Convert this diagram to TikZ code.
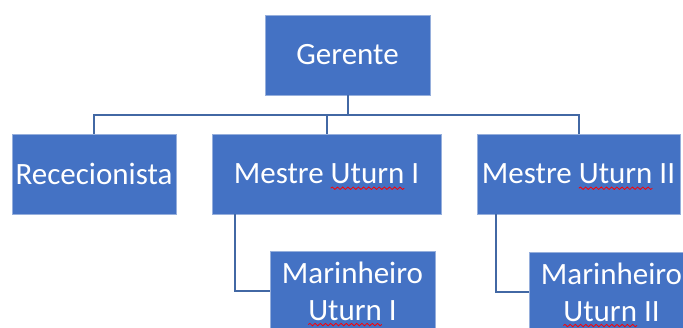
\documentclass[tikz,border=0pt]{standalone}
\usepackage{fontspec}
\setmainfont{Carlito}
\usetikzlibrary{decorations.pathmorphing}
\definecolor{boxblue}{RGB}{68,114,196}
\definecolor{boxedge}{RGB}{150,175,220}
\definecolor{linkblue}{RGB}{66,104,164}
\newsavebox\wordbox
\newcommand\spellwave[1]{\sbox\wordbox{#1}\rlap{#1}\tikz[baseline=0pt]{\path (0pt,0pt) (\wd\wordbox,0pt);\draw[overlay, red, line width=0.4pt, decorate, decoration={snake, amplitude=0.6pt, segment length=2.6pt}] (0pt,-2.2pt) -- (\wd\wordbox,-2.2pt);}}
\begin{document}
\begin{tikzpicture}[x=0.5pt, y=-0.5pt, font=\fontsize{15.5}{18.5}\selectfont,
		role/.style={draw=boxedge, fill=boxblue, text=white, line width=0.4pt, inner sep=0pt, minimum height=40pt, align=center},
		link/.style={draw=linkblue, line width=1pt}]
		\useasboundingbox (0, 0) rectangle (683, 327);
		\node[role, minimum width=82.5pt] (gerente) at (347.5, 55) {Gerente};
		\node[role, minimum width=82pt] (rec) at (94, 174) {Rececionista};
		\node[role, minimum width=114.5pt] (mestreA) at (326.5, 174) {Mestre \spellwave{Uturn} I};
		\node[role, minimum width=101.5pt] (mestreB) at (578.5, 174) {Mestre \spellwave{Uturn} II};
		\node[role, minimum width=82.5pt] (marA) at (352.5, 291) {Marinheiro\\\spellwave{Uturn} I};
		\node[role, minimum width=82.5pt] (marB) at (611.5, 292) {Marinheiro\\\spellwave{Uturn} II};

		\coordinate (bus) at (347.5, 115);
		\coordinate (tapA) at (235, 214);
		\coordinate (tapB) at (496, 214);

		\path (gerente) edge[link] (bus);
		\draw[link] (rec.north) |- (mestreB.north |- bus) -- (mestreB.north);
		\path (mestreA.north |- bus) edge[link] (mestreA.north);
		\draw[link] (tapA) |- (marA.west);
		\draw[link] (tapB) |- (marB.west);
	\end{tikzpicture}
\end{document}
